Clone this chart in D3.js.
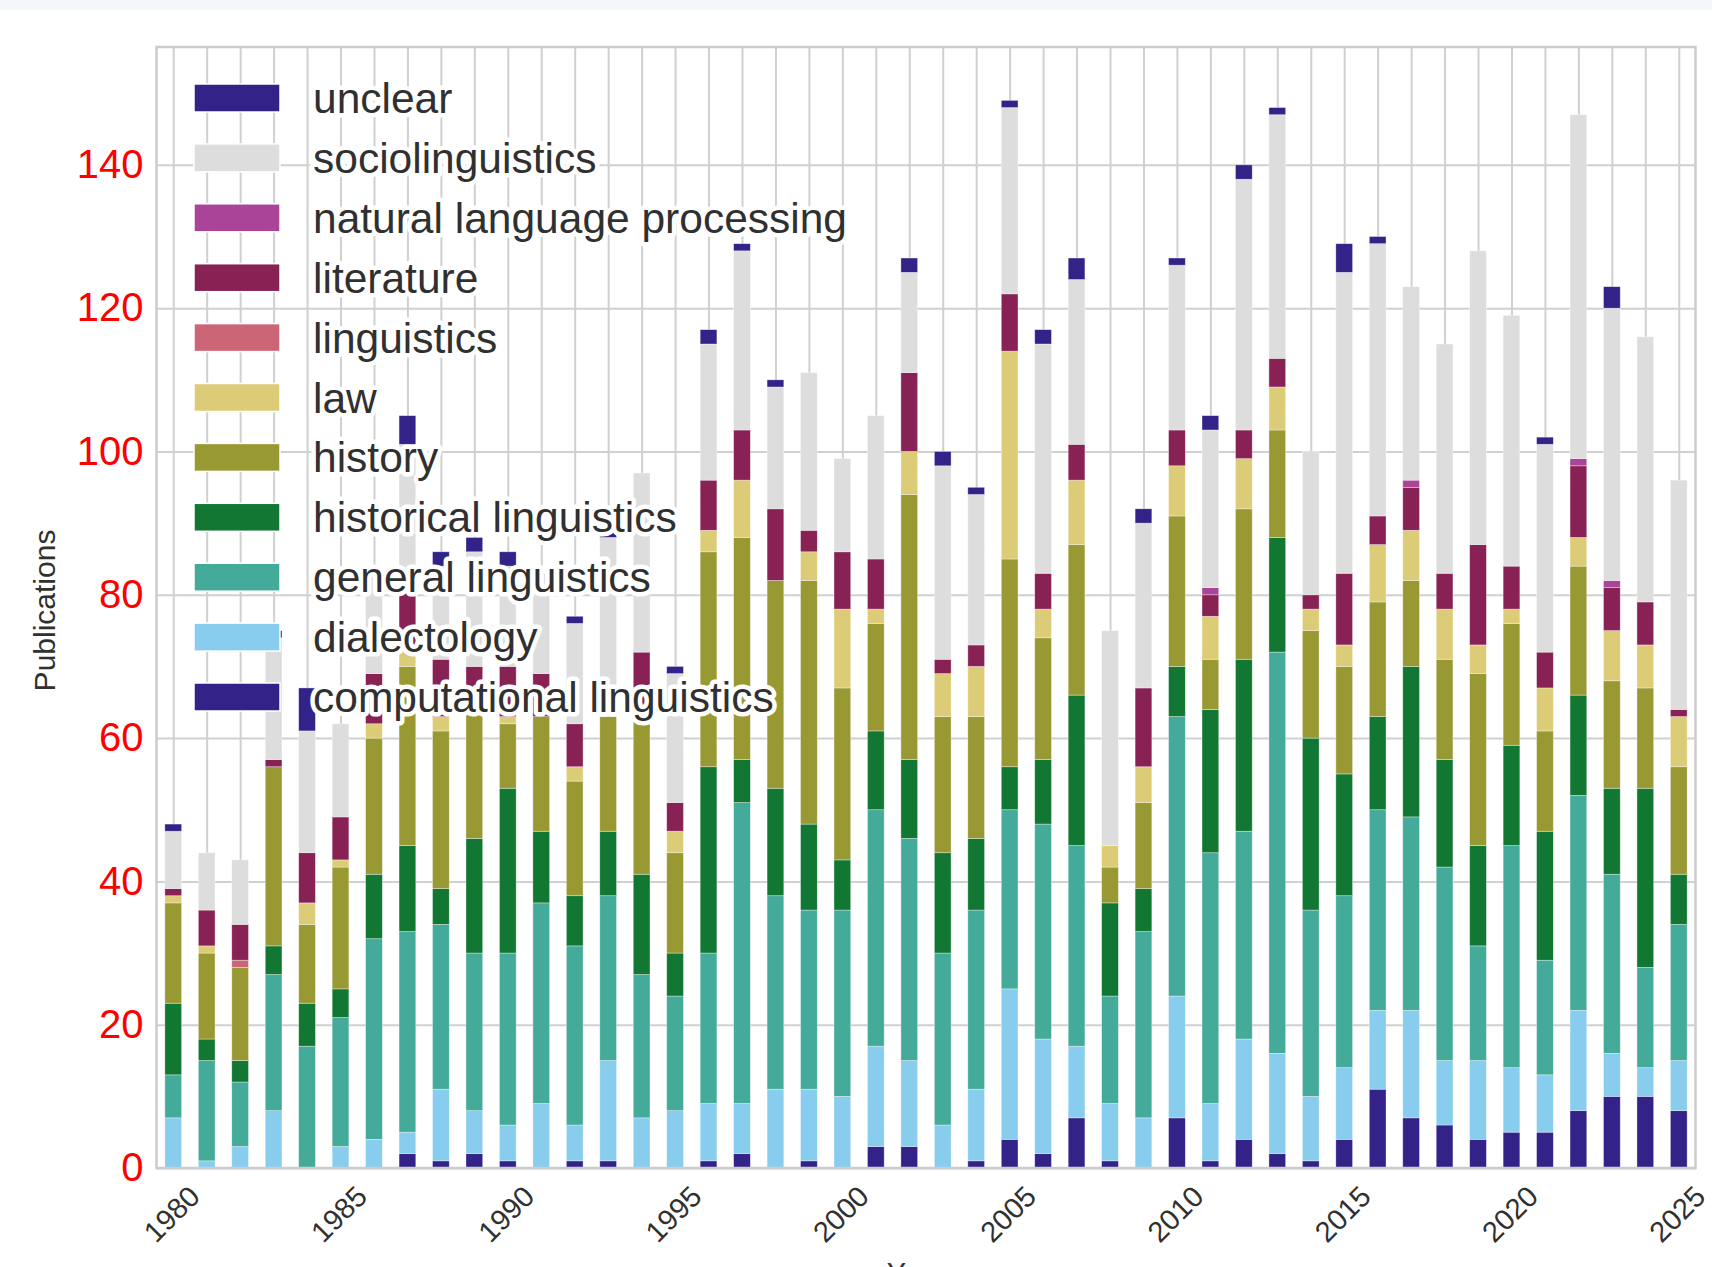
<!DOCTYPE html>
<html>
<head>
<meta charset="utf-8">
<script src="https://cdn.jsdelivr.net/npm/d3@7"></script>
<style>
  html, body { margin: 0; padding: 0; background: #ffffff; }
  svg { display: block; font-family: "Liberation Sans", Arial, sans-serif; }
</style>
</head>
<body>
<svg id="chart" width="1712" height="1267"></svg>
<script>
// ---------------- DATA ----------------
const years = [1980,1981,1982,1983,1984,1985,1986,1987,1988,1989,
               1990,1991,1992,1993,1994,1995,1996,1997,1998,1999,
               2000,2001,2002,2003,2004,2005,2006,2007,2008,2009,
               2010,2011,2012,2013,2014,2015,2016,2017,2018,2019,
               2020,2021,2022,2023,2024,2025];

const computationalLinguistics = [0,0,0,0,0,0,0,2,1,2, 1,0,1,1,0,0,1,2,0,1, 0,3,3,0,1,4,2,7,1,0, 7,1,4,2,1,4,11,7,6,4, 5,5,8,10,10,8];
const dialectology            = [7,1,3,8,0,3,4,3,10,6, 5,9,5,14,7,8,8,7,11,10, 10,14,12,6,10,21,16,10,8,7, 17,8,14,14,9,10,11,15,9,11, 9,8,14,6,4,7];
const generalLinguistics      = [6,14,9,19,17,18,28,28,23,22, 24,28,25,23,20,16,21,42,27,25, 26,33,31,24,25,25,30,28,15,26, 39,35,29,56,26,24,28,27,27,16, 31,16,30,25,14,19];
const historicalLinguistics   = [10,3,3,4,6,4,9,12,5,16, 23,10,7,9,14,6,26,6,15,12, 7,11,11,14,10,6,9,21,13,6, 7,20,24,16,24,17,13,21,15,14, 14,18,14,12,25,7];
const history                 = [14,12,13,25,11,17,19,25,22,18, 9,16,16,16,23,14,30,31,29,34, 24,15,37,19,17,29,17,21,5,12, 21,7,21,15,15,15,16,12,14,24, 17,14,18,15,14,15];
const law                     = [1,1,0,0,3,1,2,2,2,0, 1,0,2,0,0,3,3,8,0,4, 11,2,6,6,7,29,4,9,3,5, 7,6,7,6,3,3,8,7,7,4, 2,6,4,7,6,7];
const linguistics             = [0,0,1,0,0,0,0,0,0,0, 0,0,0,0,0,0,0,0,0,0, 0,0,0,0,0,0,0,0,0,0, 0,0,0,0,0,0,0,0,0,0, 0,0,0,0,0,0];
const literature              = [1,5,5,1,7,6,7,9,8,6, 7,6,6,0,8,4,7,7,10,3, 8,7,11,2,3,8,5,5,0,11, 5,3,4,4,2,10,4,6,5,14, 6,5,10,6,6,1];
const naturalLanguageProcessing = [0,0,0,0,0,0,0,0,0,0, 0,0,0,0,0,0,0,0,0,0, 0,0,0,0,0,0,0,0,0,0, 0,1,0,0,0,0,0,1,0,0, 0,0,1,1,0,0];
const sociolinguistics        = [8,8,9,17,17,13,14,20,13,16, 14,14,14,25,25,18,19,25,17,22, 13,20,14,27,21,26,32,23,30,23, 23,22,35,34,20,42,38,27,32,41, 35,29,48,38,37,32];
const unclear                 = [1,0,0,1,6,0,0,4,2,2, 2,0,1,1,0,1,2,1,1,0, 0,0,2,2,1,1,2,3,0,2, 1,2,2,1,0,4,1,0,0,0, 0,1,0,3,0,0];

// stacking order (bottom -> top)
const seriesNames = ["computational linguistics","dialectology","general linguistics",
  "historical linguistics","history","law","linguistics","literature",
  "natural language processing","sociolinguistics","unclear"];
const seriesValues = [computationalLinguistics, dialectology, generalLinguistics,
  historicalLinguistics, history, law, linguistics, literature,
  naturalLanguageProcessing, sociolinguistics, unclear];
const seriesColors = ["#332288","#88CCEE","#44AA99","#117733","#999933","#DDCC77",
  "#CC6677","#882255","#AA4499","#DDDDDD","#332288"];

const yTicks = [0,20,40,60,80,100,120,140];
const xTickLabels = [1980,1985,1990,1995,2000,2005,2010,2015,2020,2025];

// ---------------- LAYOUT ----------------
const svg = d3.select("#chart");
const L = 156.5, R = 1695.5, T = 47, B = 1168;
const textColor = "#303030";
const gridColor = "#d0d0d0";

// table for d3.stack
const table = years.map((yr, i) => {
  const row = { year: yr };
  seriesNames.forEach((n, k) => row[n] = seriesValues[k][i]);
  return row;
});
const stacked = d3.stack().keys(seriesNames)(table);

const x = d3.scaleBand().domain(years).range([L, R]).paddingInner(0.5).paddingOuter(0.25);
const y = d3.scaleLinear().domain([0, 156.45]).range([B, T]);
const color = d3.scaleOrdinal().domain(seriesNames).range(seriesColors);

svg.append("rect").attr("x",0).attr("y",0).attr("width",1712).attr("height",1267).attr("fill","#ffffff");
svg.append("rect").attr("x",0).attr("y",0).attr("width",1712).attr("height",10).attr("fill","#f5f6f9");

// grid: horizontal
const gy = svg.append("g").attr("transform", `translate(${L},0)`)
  .call(d3.axisLeft(y).tickValues(yTicks).tickSize(-(R - L)).tickFormat(""));
gy.select(".domain").remove();
gy.selectAll("line").attr("stroke", gridColor).attr("stroke-width", 2);

// grid: vertical at every year (band centres)
const xc = d3.scalePoint().domain(years).range([x(years[0]) + x.bandwidth()/2, x(years[years.length-1]) + x.bandwidth()/2]);
const gx = svg.append("g").attr("transform", `translate(0,${B})`)
  .call(d3.axisBottom(xc).tickSize(-(B - T)).tickFormat(""));
gx.select(".domain").remove();
gx.selectAll("line").attr("stroke", gridColor).attr("stroke-width", 2);

// bars
svg.append("g").selectAll("g").data(stacked).join("g")
  .attr("fill", d => color(d.key))
  .selectAll("rect").data(d => d).join("rect")
  .attr("x", d => x(d.data.year))
  .attr("width", x.bandwidth())
  .attr("y", d => y(d[1]))
  .attr("height", d => y(d[0]) - y(d[1]))
  .attr("stroke", "#ffffff").attr("stroke-opacity", 0.5).attr("stroke-width", 0.7);

// spines
svg.append("rect").attr("x", L).attr("y", T).attr("width", R - L).attr("height", B - T)
  .attr("fill", "none").attr("stroke", "#cccccc").attr("stroke-width", 2.5);

// y tick labels
const ya = svg.append("g").attr("transform", `translate(${L},0)`)
  .call(d3.axisLeft(y).tickValues(yTicks).tickSize(0).tickPadding(13));
ya.select(".domain").remove();
ya.selectAll("text").attr("fill", "#ff0000").attr("font-size", 40)
  .attr("font-family", "Liberation Sans, Arial, sans-serif");

// x tick labels (rotated)
const xa = svg.append("g").attr("transform", `translate(0,${B})`)
  .call(d3.axisBottom(xc).tickValues(xTickLabels).tickSize(0).tickFormat(d3.format("d")));
xa.select(".domain").remove();
xa.selectAll("text")
  .attr("y", 0).attr("dy", null)
  .attr("transform", "translate(-2,46) rotate(-45)")
  .attr("text-anchor", "middle")
  .attr("dominant-baseline", "central")
  .attr("fill", textColor).attr("font-size", 29)
  .attr("font-family", "Liberation Sans, Arial, sans-serif");

// axis labels
svg.append("text").attr("transform", `translate(44,${(T + B)/2 + 3}) rotate(-90)`)
  .attr("text-anchor", "middle").attr("dominant-baseline", "central")
  .attr("fill", textColor).attr("font-size", 30).text("Publications");
svg.append("text").attr("x", (L + R)/2 - 10).attr("y", 1283)
  .attr("text-anchor", "middle").attr("fill", textColor).attr("font-size", 29).text("Year");

// legend (reverse order), text with white halo
const legendOrder = seriesNames.slice().reverse();
const lg = svg.append("g");
const rows = lg.selectAll("g").data(legendOrder).join("g")
  .attr("transform", (d, i) => `translate(0,${98 + i * 59.9})`);
rows.append("rect").attr("x", 194).attr("y", -14).attr("width", 86).attr("height", 28)
  .attr("fill", d => color(d)).attr("stroke", "#ffffff").attr("stroke-width", 1.5);
rows.append("text").attr("x", 313).attr("y", 15)
  .attr("font-size", 42.5).attr("fill", textColor)
  .attr("stroke", "#ffffff").attr("stroke-width", 9).attr("stroke-linejoin", "round")
  .attr("paint-order", "stroke")
  .text(d => d);
</script>
</body>
</html>
